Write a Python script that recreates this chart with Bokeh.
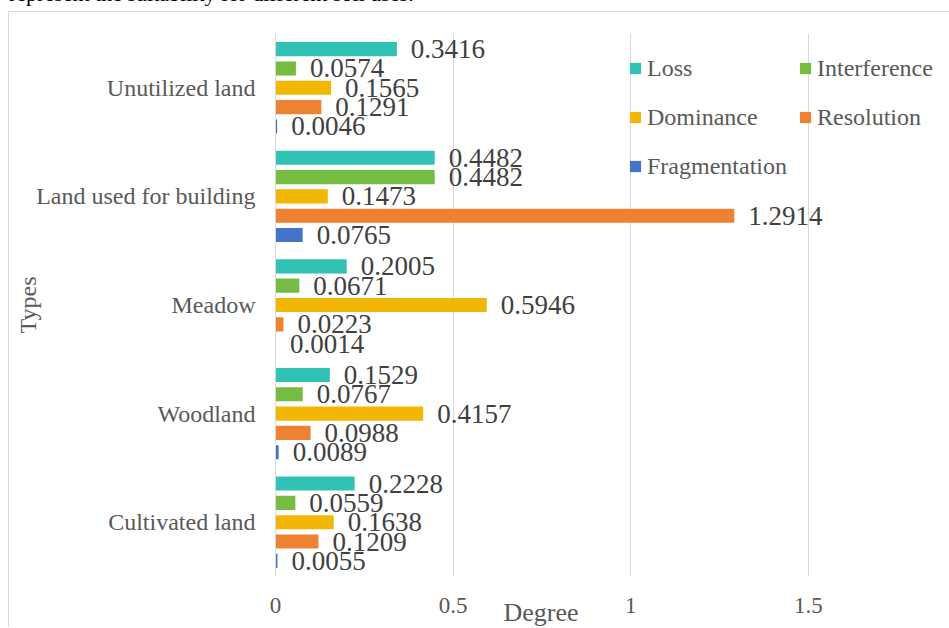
from bokeh.plotting import figure
from bokeh.models import (Range1d, FactorRange, FixedTicker, Legend, LegendItem,
                          Label, Div, ColumnDataSource)
from bokeh.layouts import column
from bokeh.transform import dodge
from bokeh.core.properties import value
from bokeh.embed import file_html
from bokeh.resources import INLINE

categories = ["Unutilized land", "Land used for building", "Meadow", "Woodland", "Cultivated land"]
series = ["Loss", "Interference", "Dominance", "Resolution", "Fragmentation"]
loss = [0.3416, 0.4482, 0.2005, 0.1529, 0.2228]
interference = [0.0574, 0.4482, 0.0671, 0.0767, 0.0559]
dominance = [0.1565, 0.1473, 0.5946, 0.4157, 0.1638]
resolution = [0.1291, 1.2914, 0.0223, 0.0988, 0.1209]
fragmentation = [0.0046, 0.0765, 0.0014, 0.0089, 0.0055]
colors = ["#31C1B5", "#76BC43", "#F2B705", "#EE8232", "#4573CC"]
x_ticks = [0, 0.5, 1, 1.5]
x_tick_labels = ["0", "0.5", "1", "1.5"]
x_title = "Degree"
y_title = "Types"
caption = "represent the suitability for different soil uses."

values = [loss, interference, dominance, resolution, fragmentation]
FONT = "'Liberation Serif', 'Times New Roman', serif"

cap = Div(text=f'<div style="position:relative; top:-19px; left:9px; white-space:nowrap; '
               f'font-family:{FONT}; font-size:22px; line-height:25px; color:#000;">{caption}</div>',
          width=949, height=11, margin=(0, 0, 0, 0),
          styles={"overflow": "hidden"})

p = figure(width=941, height=616, output_backend="svg", toolbar_location=None,
           x_range=Range1d(0, 1.9), y_range=FactorRange(factors=categories[::-1]),
           min_border_left=266, min_border_right=0, min_border_top=21, min_border_bottom=52)
p.margin = (0, 0, 0, 8)
p.styles = {"border-top": "1px solid #D9D9D9", "border-left": "1px solid #D9D9D9"}
p.outline_line_color = None
p.background_fill_color = "white"
p.border_fill_color = "white"

p.xgrid.grid_line_color = "#D9D9D9"
p.xgrid.ticker = FixedTicker(ticks=x_ticks)
p.ygrid.grid_line_color = None

p.xaxis.ticker = FixedTicker(ticks=x_ticks)
p.xaxis.major_label_overrides = {t: l for t, l in zip(x_ticks, x_tick_labels)}
p.xaxis.axis_line_color = None
p.xaxis.major_tick_line_color = None
p.xaxis.minor_tick_line_color = None
p.xaxis.major_label_text_font = FONT
p.xaxis.major_label_text_font_size = "23px"
p.xaxis.major_label_text_color = "#595959"
p.xaxis.major_label_standoff = -14

p.yaxis.axis_line_color = "#D9D9D9"
p.yaxis.major_tick_line_color = None
p.yaxis.minor_tick_line_color = None
p.yaxis.major_label_text_font = FONT
p.yaxis.major_label_text_font_size = "24px"
p.yaxis.major_label_text_color = "#595959"
p.yaxis.major_label_standoff = 14
p.yaxis.axis_label = y_title
p.yaxis.axis_label_standoff = -8
p.yaxis.axis_label_text_font = FONT
p.yaxis.axis_label_text_font_size = "24px"
p.yaxis.axis_label_text_font_style = "normal"
p.yaxis.axis_label_text_color = "#595959"

offsets = [0.356, 0.178, 0.0, -0.178, -0.356]
renderers = {}
for name, vals, col, off in zip(series, values, colors, offsets):
    src = ColumnDataSource(dict(cat=categories, val=vals, lab=[f"{v:.4f}" for v in vals]))
    r = p.hbar(y=dodge("cat", off, range=p.y_range), right="val", left=0, height=0.13,
               fill_color=col, line_color=None, source=src)
    p.text(x="val", y=dodge("cat", off, range=p.y_range), text="lab", source=src,
           x_offset=14, text_baseline="middle", text_align="left",
           text_font=value(FONT), text_font_size="27px", text_color="#404040")
    renderers[name] = r

legend_order = ["Loss", "Dominance", "Fragmentation", "Interference", "Resolution"]
legend = Legend(items=[LegendItem(label=n, renderers=[renderers[n]]) for n in legend_order],
                ncols=2, location=(353, 391),
                glyph_width=14, glyph_height=14, label_standoff=5,
                label_height=38, spacing=11, padding=0, margin=0,
                label_text_font=FONT, label_text_font_size="24px",
                label_text_color="#595959",
                background_fill_alpha=0, border_line_color=None)
p.add_layout(legend, "center")

xlab = Label(x=228, y=-7, x_units="screen", y_units="screen", text=x_title,
             text_align="left", text_baseline="middle",
             text_font=FONT, text_font_size="26px", text_font_style="normal",
             text_color="#595959")
p.below = [xlab] + list(p.below)

layout = column(cap, p, spacing=0, margin=(0, 0, 0, 0))
open("out.html", "w").write(file_html(layout, INLINE))
